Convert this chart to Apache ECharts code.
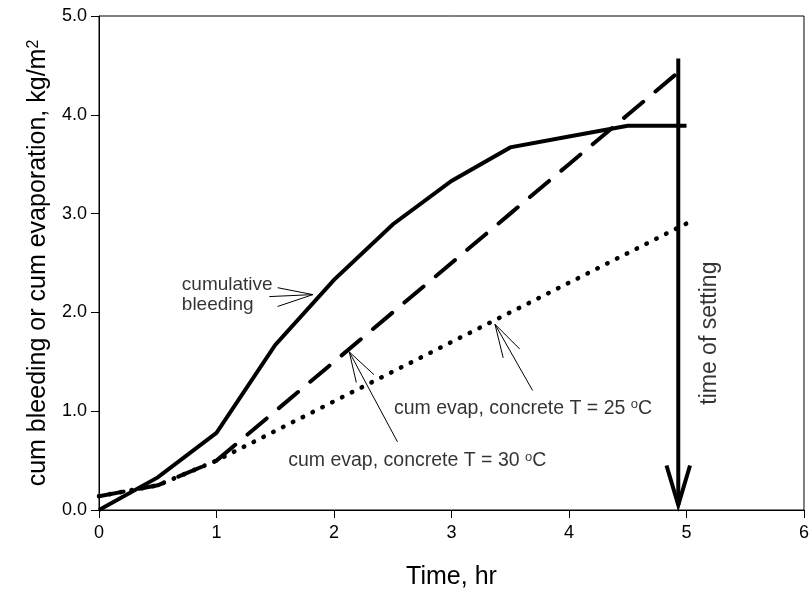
<!DOCTYPE html>
<html>
<head>
<meta charset="utf-8">
<script src="https://cdn.jsdelivr.net/npm/echarts@6/dist/echarts.min.js"></script>
<style>html,body{margin:0;padding:0;background:#fff}#chart{width:812px;height:595px}</style>
</head>
<body>
<div id="chart"></div>
<script>
// ---- data ----
const hours     = [0, 0.5, 1, 1.5, 2, 2.5, 3, 3.5, 4, 4.5, 5];
const bleeding  = [0, 0.33, 0.78, 1.67, 2.33, 2.89, 3.33, 3.67, 3.78, 3.89, 3.89];
const evap30    = [0.14, 0.25, 0.5, 1.0, 1.5, 2.0, 2.5, 3.0, 3.5, 4.0, 4.5];
const evap25    = [0.14, 0.25, 0.5, 0.8, 1.1, 1.4, 1.7, 2.0, 2.3, 2.6, 2.9];
const xTickLabels = ['0', '1', '2', '3', '4', '5', '6'];
const yTickLabels = ['0.0', '1.0', '2.0', '3.0', '4.0', '5.0'];

// time-of-setting arrow (data units)
const settingX = 4.93, settingTop = 4.57, settingTip = 0.05;
const settingHeadHalfWidth = 0.1, settingHeadTop = 0.45;

// annotation pointers: barbs meet at tip, shaft runs from tail to tip
const bleedPointer = { tip: [1.82, 2.18], barbA: [1.52, 2.25], barbB: [1.52, 2.06], tail: [1.45, 2.16] };
const evap30Pointer = { tip: [2.13, 1.60], barbA: [2.19, 1.29], barbB: [2.34, 1.37], tail: [2.54, 0.69] };
const evap25Pointer = { tip: [3.37, 1.88], barbA: [3.44, 1.54], barbB: [3.58, 1.63], tail: [3.69, 1.21] };

const bleedLabelPos = [0.705, 2.175];
const evap25LabelPos = [2.51, 1.03];
const evap30LabelPos = [1.61, 0.50];
const settingLabelPos = [5.2, 1.79];

const FONT = 'Liberation Sans, Arial, sans-serif';

const zip = (xs, ys) => xs.map((x, i) => [x, ys[i]]);

function thinLine(points) {
  return {
    type: 'line', data: points, showSymbol: false, symbol: 'none', silent: true,
    lineStyle: { color: '#000', width: 1 }, z: 5, animation: false
  };
}
function pointerSeries(p) {
  return [thinLine([p.barbA, p.tip, p.barbB]), thinLine([p.tail, p.tip])];
}
function textSeries(pos, text, extra) {
  return {
    type: 'scatter', data: [pos], symbolSize: 0, silent: true, animation: false, z: 6,
    label: Object.assign({
      show: true, position: 'right', distance: 0, formatter: text,
      color: '#000', fontFamily: FONT, fontSize: 19.5, lineHeight: 20,
      rich: { sup: { fontSize: 13, verticalAlign: 'top', lineHeight: 20, color: '#000', fontFamily: FONT } }
    }, extra || {})
  };
}

const chart = echarts.init(document.getElementById('chart'), null, { renderer: 'canvas' });
chart.setOption({
  animation: false,
  backgroundColor: '#fff',
  grid: { left: 99, right: 7, top: 16, bottom: 85, show: true, borderColor: '#000', borderWidth: 1, backgroundColor: 'transparent' },
  xAxis: {
    type: 'value', min: 0, max: 6, interval: 1,
    name: 'Time, hr', nameLocation: 'middle', nameGap: 55,
    nameTextStyle: { fontFamily: FONT, fontSize: 25, color: '#000' },
    axisLine: { show: true, lineStyle: { color: '#000', width: 1 } },
    axisTick: { show: true, inside: false, length: 8, lineStyle: { color: '#000' } },
    axisLabel: { color: '#000', fontFamily: FONT, fontSize: 18, margin: 14, formatter: v => xTickLabels[Math.round(v)] },
    splitLine: { show: false }
  },
  yAxis: {
    type: 'value', min: 0, max: 5, interval: 1,
    name: 'cum bleeding or cum evaporation, kg/m{sup|2}', nameLocation: 'middle', nameGap: 37,
    nameTextStyle: { fontFamily: FONT, fontSize: 25, color: '#000',
      rich: { sup: { fontSize: 16, verticalAlign: 'top', fontFamily: FONT, color: '#000' } } },
    axisLine: { show: true, lineStyle: { color: '#000', width: 1 } },
    axisTick: { show: true, inside: false, length: 8, lineStyle: { color: '#000' } },
    axisLabel: { color: '#000', fontFamily: FONT, fontSize: 18, margin: 12, formatter: v => yTickLabels[Math.round(v)] },
    splitLine: { show: false }
  },
  series: [
    {
      name: 'cum evap 25', type: 'line', data: zip(hours, evap25), showSymbol: false, symbol: 'none', silent: true,
      lineStyle: { color: '#000', width: 4.5, type: [0.5, 10.5], cap: 'round' }, z: 2
    },
    {
      name: 'cum evap 30', type: 'line', data: zip(hours, evap30), showSymbol: false, symbol: 'none', silent: true,
      lineStyle: { color: '#000', width: 4, type: [25, 16], cap: 'round' }, z: 3
    },
    {
      name: 'cumulative bleeding', type: 'line', data: zip(hours, bleeding), showSymbol: false, symbol: 'none', silent: true,
      lineStyle: { color: '#000', width: 4, join: 'miter' }, z: 4
    },
    {
      type: 'line', data: [[settingX, settingTop], [settingX, settingTip]], showSymbol: false, symbol: 'none', silent: true,
      lineStyle: { color: '#000', width: 4 }, z: 4
    },
    {
      type: 'line', data: [[settingX - settingHeadHalfWidth, settingHeadTop], [settingX, settingTip], [settingX + settingHeadHalfWidth, settingHeadTop]],
      showSymbol: false, symbol: 'none', silent: true,
      lineStyle: { color: '#000', width: 4, join: 'miter' }, z: 4
    },
    ...pointerSeries(bleedPointer),
    ...pointerSeries(evap30Pointer),
    ...pointerSeries(evap25Pointer),
    textSeries(bleedLabelPos, 'cumulative\nbleeding', { fontSize: 19 }),
    textSeries(evap25LabelPos, 'cum evap, concrete T = 25 {sup|o}C'),
    textSeries(evap30LabelPos, 'cum evap, concrete T = 30 {sup|o}C'),
    textSeries(settingLabelPos, 'time of setting', { position: 'inside', rotate: 90, align: 'center', verticalAlign: 'middle', fontSize: 23 })
  ]
});
</script>
</body>
</html>
